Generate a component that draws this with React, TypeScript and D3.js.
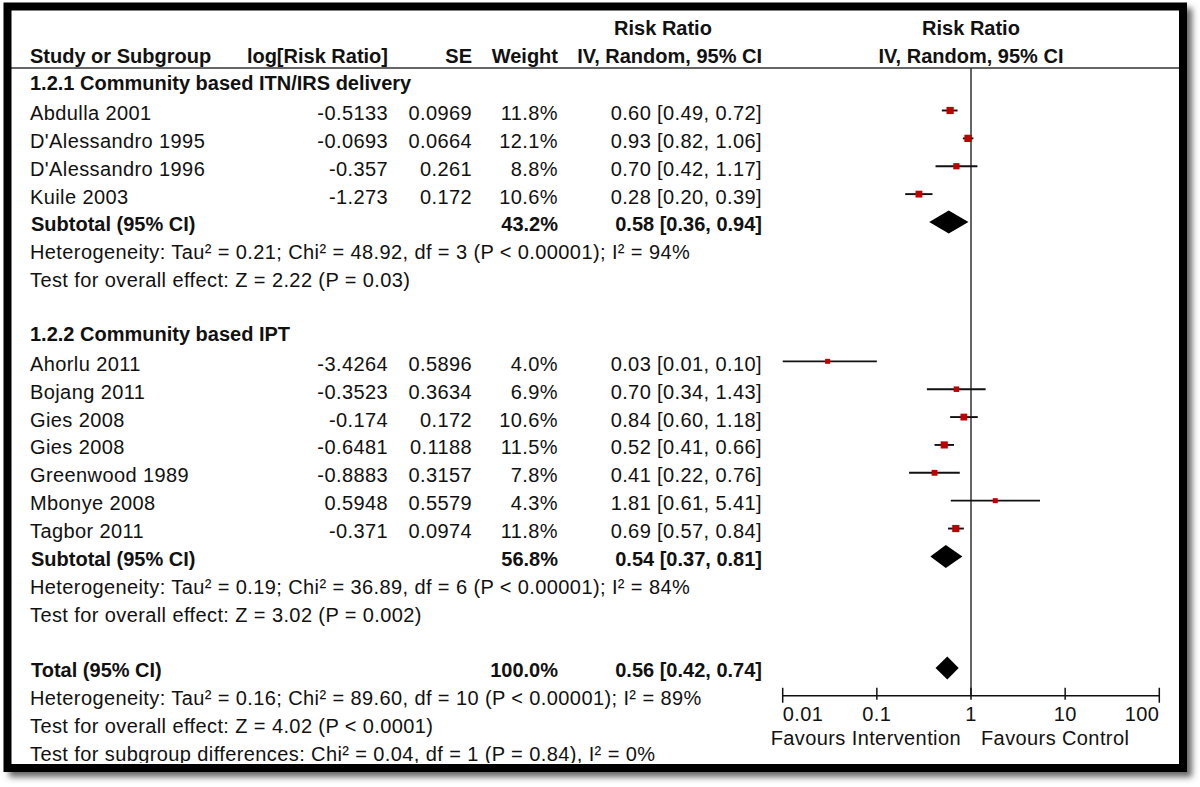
import React from "react";
import * as d3 from "d3";

// ---------- data ----------
const group1Title = "1.2.1 Community based ITN/IRS delivery";
const group1Names = ["Abdulla 2001", "D'Alessandro 1995", "D'Alessandro 1996", "Kuile 2003"];
const group1LogRR = ["-0.5133", "-0.0693", "-0.357", "-1.273"];
const group1SE = ["0.0969", "0.0664", "0.261", "0.172"];
const group1Weight = [11.8, 12.1, 8.8, 10.6];
const group1RR = [0.6, 0.93, 0.7, 0.28];
const group1Lo = [0.49, 0.82, 0.42, 0.2];
const group1Hi = [0.72, 1.06, 1.17, 0.39];
const group1Subtotal = { weight: 43.2, rr: 0.58, lo: 0.36, hi: 0.94 };
const group1Het = "Heterogeneity: Tau\u00b2 = 0.21; Chi\u00b2 = 48.92, df = 3 (P < 0.00001); I\u00b2 = 94%";
const group1Test = "Test for overall effect: Z = 2.22 (P = 0.03)";

const group2Title = "1.2.2 Community based IPT";
const group2Names = ["Ahorlu 2011", "Bojang 2011", "Gies 2008", "Gies 2008", "Greenwood 1989", "Mbonye 2008", "Tagbor 2011"];
const group2LogRR = ["-3.4264", "-0.3523", "-0.174", "-0.6481", "-0.8883", "0.5948", "-0.371"];
const group2SE = ["0.5896", "0.3634", "0.172", "0.1188", "0.3157", "0.5579", "0.0974"];
const group2Weight = [4.0, 6.9, 10.6, 11.5, 7.8, 4.3, 11.8];
const group2RR = [0.03, 0.7, 0.84, 0.52, 0.41, 1.81, 0.69];
const group2Lo = [0.01, 0.34, 0.6, 0.41, 0.22, 0.61, 0.57];
const group2Hi = [0.1, 1.43, 1.18, 0.66, 0.76, 5.41, 0.84];
const group2Subtotal = { weight: 56.8, rr: 0.54, lo: 0.37, hi: 0.81 };
const group2Het = "Heterogeneity: Tau\u00b2 = 0.19; Chi\u00b2 = 36.89, df = 6 (P < 0.00001); I\u00b2 = 84%";
const group2Test = "Test for overall effect: Z = 3.02 (P = 0.002)";

const total = { weight: 100.0, rr: 0.56, lo: 0.42, hi: 0.74 };
const totalHet = "Heterogeneity: Tau\u00b2 = 0.16; Chi\u00b2 = 89.60, df = 10 (P < 0.00001); I\u00b2 = 89%";
const totalTest = "Test for overall effect: Z = 4.02 (P < 0.0001)";
const subgroupTest = "Test for subgroup differences: Chi\u00b2 = 0.04, df = 1 (P = 0.84), I\u00b2 = 0%";

const axisTicks = [0.01, 0.1, 1, 10, 100];
const axisTickLabels = ["0.01", "0.1", "1", "10", "100"];
const favoursLeft = "Favours Intervention";
const favoursRight = "Favours Control";

// ---------- layout ----------
const W = 1200;
const H = 787;
const FONT = "'Liberation Sans', Arial, Helvetica, sans-serif";
const FS = 20;
const LS = 0.4;

const fmtCI = (r: number, l: number, h: number) => `${r.toFixed(2)} [${l.toFixed(2)}, ${h.toFixed(2)}]`;
const fmtW = (w: number) => `${w.toFixed(1)}%`;

type Row =
  | { kind: "title"; slot: number; text: string }
  | { kind: "study"; slot: number; name: string; logrr: string; se: string; w: number; rr: number; lo: number; hi: number }
  | { kind: "sub"; slot: number; label: string; w: number; rr: number; lo: number; hi: number }
  | { kind: "note"; slot: number; text: string };

function buildRows(): Row[] {
  const rows: Row[] = [];
  let s = 2;
  rows.push({ kind: "title", slot: s++, text: group1Title });
  group1Names.forEach((n, i) =>
    rows.push({ kind: "study", slot: s++, name: n, logrr: group1LogRR[i], se: group1SE[i], w: group1Weight[i], rr: group1RR[i], lo: group1Lo[i], hi: group1Hi[i] })
  );
  rows.push({ kind: "sub", slot: s++, label: "Subtotal (95% CI)", w: group1Subtotal.weight, rr: group1Subtotal.rr, lo: group1Subtotal.lo, hi: group1Subtotal.hi });
  rows.push({ kind: "note", slot: s++, text: group1Het });
  rows.push({ kind: "note", slot: s++, text: group1Test });
  s++;
  rows.push({ kind: "title", slot: s++, text: group2Title });
  group2Names.forEach((n, i) =>
    rows.push({ kind: "study", slot: s++, name: n, logrr: group2LogRR[i], se: group2SE[i], w: group2Weight[i], rr: group2RR[i], lo: group2Lo[i], hi: group2Hi[i] })
  );
  rows.push({ kind: "sub", slot: s++, label: "Subtotal (95% CI)", w: group2Subtotal.weight, rr: group2Subtotal.rr, lo: group2Subtotal.lo, hi: group2Subtotal.hi });
  rows.push({ kind: "note", slot: s++, text: group2Het });
  rows.push({ kind: "note", slot: s++, text: group2Test });
  s++;
  rows.push({ kind: "sub", slot: s++, label: "Total (95% CI)", w: total.weight, rr: total.rr, lo: total.lo, hi: total.hi });
  rows.push({ kind: "note", slot: s++, text: totalHet });
  rows.push({ kind: "note", slot: s++, text: totalTest });
  rows.push({ kind: "note", slot: s++, text: subgroupTest });
  return rows;
}

export default function App() {
  const rows = buildRows();
  const x = d3.scaleLog().domain([0.01, 100]).range([782.7, 1159.3]);
  const base = d3.scaleLinear().domain([3, 26]).range([120, 761]);
  const markY = (slot: number) => base(slot) - 9.5;
  const axisY = markY(24);
  const headerLineY = 68;
  const sqSize = (w: number) => Math.max(5, 2.1 * Math.sqrt(w));

  const col = { name: 30, logrr: 388, se: 472, weight: 558, ci: 762, rrHead: 663 };
  const x1 = x(1);

  const txt = (props: any, content: string, bold = false) => (
    <text
      fontFamily={FONT}
      fontSize={FS}
      fontWeight={bold ? "bold" : "normal"}
      letterSpacing={bold ? 0 : LS}
      fill="#111"
      {...props}
    >
      {content}
    </text>
  );

  const diamond = (rr: number, lo: number, hi: number, cy: number) => {
    const p = d3.path();
    p.moveTo(x(lo), cy);
    p.lineTo(x(rr), cy - 11.5);
    p.lineTo(x(hi), cy);
    p.lineTo(x(rr), cy + 11.5);
    p.closePath();
    return p.toString();
  };

  return (
    <svg width={W} height={H} style={{ position: "absolute", left: 0, top: 0, display: "block", background: "#fff" }}>
      <defs>
        <filter id="shadow" x="-5%" y="-5%" width="110%" height="110%">
          <feGaussianBlur stdDeviation="3" />
        </filter>
        <clipPath id="inner">
          <rect x={11} y={10} width={1168} height={753} />
        </clipPath>
      </defs>
      <rect x={0} y={0} width={W} height={H} fill="#fff" />
      <rect x={9} y={8} width={1183} height={769} fill="#666" filter="url(#shadow)" />
      <rect x={4} y={3} width={1183} height={769} fill="#fff" />

      <g clipPath="url(#inner)">
        {/* header */}
        {txt({ x: col.rrHead, y: 35, textAnchor: "middle" }, "Risk Ratio", true)}
        {txt({ x: x1, y: 35, textAnchor: "middle" }, "Risk Ratio", true)}
        {txt({ x: col.name, y: 62.5 }, "Study or Subgroup", true)}
        {txt({ x: col.logrr, y: 62.5, textAnchor: "end" }, "log[Risk Ratio]", true)}
        {txt({ x: col.se, y: 62.5, textAnchor: "end" }, "SE", true)}
        {txt({ x: col.weight, y: 62.5, textAnchor: "end" }, "Weight", true)}
        {txt({ x: col.ci, y: 62.5, textAnchor: "end" }, "IV, Random, 95% CI", true)}
        {txt({ x: x1, y: 62.5, textAnchor: "middle" }, "IV, Random, 95% CI", true)}
        <line x1={11} x2={1179} y1={headerLineY} y2={headerLineY} stroke="#333" strokeWidth={1.5} />

        {/* null line */}
        <line x1={x1} x2={x1} y1={headerLineY} y2={axisY} stroke="#333" strokeWidth={1.5} />

        {rows.map((r, i) => {
          const b = base(r.slot);
          const my = markY(r.slot);
          if (r.kind === "title") return <g key={i}>{txt({ x: col.name, y: b - 2 }, r.text, true)}</g>;
          if (r.kind === "note") return <g key={i}>{txt({ x: col.name, y: b }, r.text)}</g>;
          if (r.kind === "study") {
            const s = sqSize(r.w);
            return (
              <g key={i}>
                {txt({ x: col.name, y: b }, r.name)}
                {txt({ x: col.logrr, y: b, textAnchor: "end" }, r.logrr)}
                {txt({ x: col.se, y: b, textAnchor: "end" }, r.se)}
                {txt({ x: col.weight, y: b, textAnchor: "end" }, fmtW(r.w))}
                {txt({ x: col.ci, y: b, textAnchor: "end" }, fmtCI(r.rr, r.lo, r.hi))}
                <line x1={x(r.lo)} x2={x(r.hi)} y1={my} y2={my} stroke="#111" strokeWidth={1.9} />
                <rect x={x(r.rr) - s / 2} y={my - s / 2} width={s} height={s} fill="#c00000" />
              </g>
            );
          }
          return (
            <g key={i}>
              {txt({ x: col.name + 1, y: b }, r.label, true)}
              {txt({ x: col.weight, y: b, textAnchor: "end" }, fmtW(r.w), true)}
              {txt({ x: col.ci, y: b, textAnchor: "end" }, fmtCI(r.rr, r.lo, r.hi), true)}
              <path d={diamond(r.rr, r.lo, r.hi, my)} fill="#000" />
            </g>
          );
        })}

        {/* axis */}
        <line x1={x(0.01)} x2={x(100)} y1={axisY} y2={axisY} stroke="#111" strokeWidth={1.5} />
        {axisTicks.map((t, i) => {
          const end = i === 0 || i === axisTicks.length - 1;
          return (
            <g key={t}>
              <line x1={x(t)} x2={x(t)} y1={axisY - 8} y2={axisY + (end ? 7 : 4)} stroke="#111" strokeWidth={1.5} />
              {txt(
                {
                  x: x(t),
                  y: axisY + 25,
                  textAnchor: i === 0 ? "start" : i === axisTicks.length - 1 ? "end" : "middle",
                },
                axisTickLabels[i]
              )}
            </g>
          );
        })}
        {txt({ x: x1 - 10, y: axisY + 49, textAnchor: "end" }, favoursLeft)}
        {txt({ x: x1 + 10, y: axisY + 49 }, favoursRight)}
      </g>

      {/* frame */}
      <rect x={7.5} y={6.5} width={1175.5} height={761.5} fill="none" stroke="#000" strokeWidth={8} />
    </svg>
  );
}
